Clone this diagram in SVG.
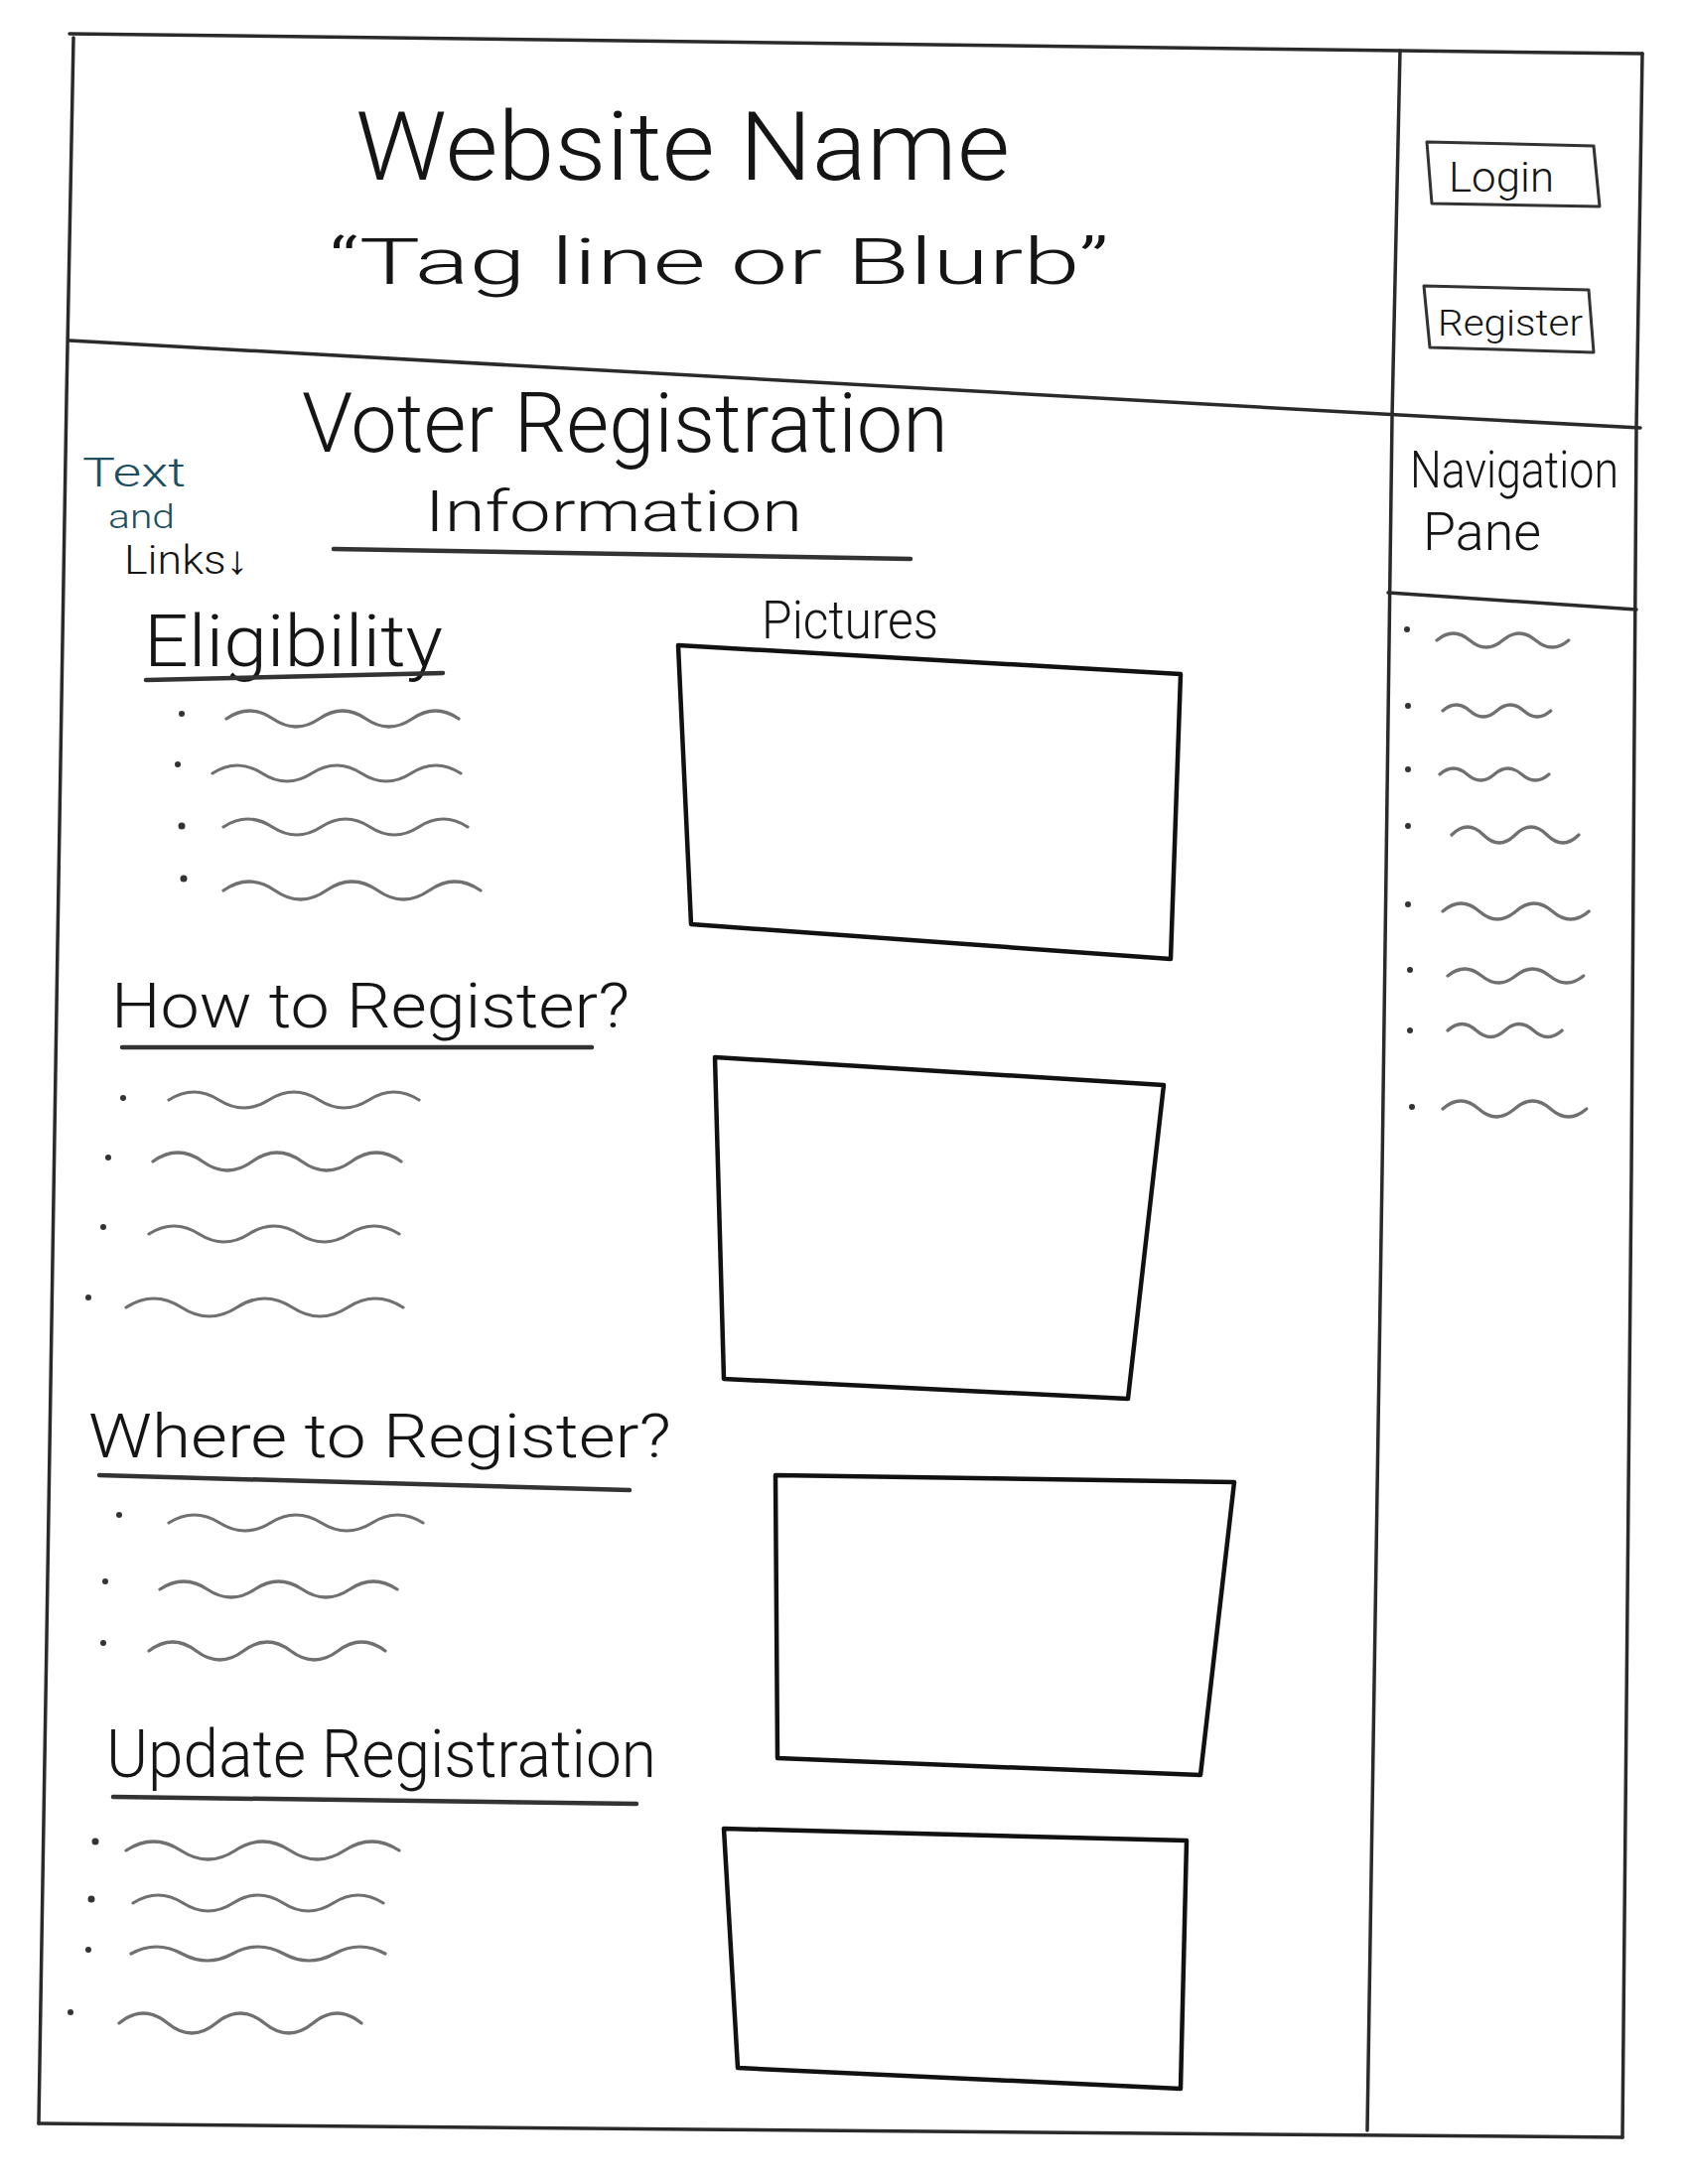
<svg xmlns="http://www.w3.org/2000/svg" width="1700" height="2200" viewBox="0 0 1700 2200">
<style>
.frame{fill:none;stroke:#2a2a2a;stroke-width:3.5;stroke-linecap:round;stroke-linejoin:round}
.box{fill:none;stroke:#111;stroke-width:4.5;stroke-linejoin:round;stroke-linecap:round}
.btn{fill:none;stroke:#333;stroke-width:3;stroke-linejoin:round}
.ul{fill:none;stroke:#333;stroke-width:4.5;stroke-linecap:round}
.sq{fill:none;stroke:#707070;stroke-width:3.2;stroke-linecap:round}
.dot{fill:#333}
.t{font-family:Roboto,"Liberation Sans",sans-serif;font-weight:300;fill:#151515}
.teal{fill:#1d4f61}
</style>
<rect width="1700" height="2200" fill="#ffffff"/>
<g id="frame">
<polyline class="frame" points="70,34 1410,51 1654,54"/>
<polyline class="frame" points="74,38 67,400 58,950 47,1650 39,2139"/>
<polyline class="frame" points="39,2139 700,2145 1634,2153"/>
<polyline class="frame" points="1654,54 1648,431 1643,1180 1634,2153"/>
<polyline class="frame" points="1410,51 1402,420 1392,1180 1377,2146"/>
<polyline class="frame" points="70,343 1410,418 1652,431"/>
<polyline class="frame" points="1398,597 1648,614"/>
</g>
<g id="header">
<text class="t" x="358" y="181" font-size="96" textLength="659" lengthAdjust="spacingAndGlyphs">Website Name</text>
<text class="t" x="331" y="286" font-size="64" textLength="786" lengthAdjust="spacingAndGlyphs">“Tag line or Blurb”</text>
</g>
<g id="login">
<polygon class="btn" points="1437,143 1605,147 1611,208 1442,205"/>
<text class="t" x="1459" y="193" font-size="42" textLength="106" lengthAdjust="spacingAndGlyphs">Login</text>
</g>
<g id="register">
<polygon class="btn" points="1434,288 1600,292 1605,355 1440,350"/>
<text class="t" x="1448" y="338" font-size="36" textLength="146" lengthAdjust="spacingAndGlyphs">Register</text>
</g>
<g id="navigation-pane">
<text class="t" x="1420" y="491" font-size="52" textLength="210" lengthAdjust="spacingAndGlyphs">Navigation</text>
<text class="t" x="1433" y="554" font-size="54" textLength="119" lengthAdjust="spacingAndGlyphs">Pane</text>
<circle class="dot" cx="1417" cy="634" r="3"/>
<path class="sq" d="M1447,645 q16.6,-14 33.2,0 t33.2,0 t33.2,0 t33.2,0"/>
<circle class="dot" cx="1418" cy="711" r="3"/>
<path class="sq" d="M1453,716 q13.6,-12 27.2,0 t27.2,0 t27.2,0 t27.2,0"/>
<circle class="dot" cx="1418" cy="775" r="3"/>
<path class="sq" d="M1450,780 q13.7,-12 27.5,0 t27.5,0 t27.5,0 t27.5,0"/>
<circle class="dot" cx="1418" cy="832" r="3"/>
<path class="sq" d="M1462,841 q16,-16 32,0 t32,0 t32,0 t32,0"/>
<circle class="dot" cx="1418" cy="911" r="3"/>
<path class="sq" d="M1453,918 q18.4,-16 36.8,0 t36.8,0 t36.8,0 t36.8,0"/>
<circle class="dot" cx="1420" cy="977" r="3"/>
<path class="sq" d="M1458,983 q17.1,-14 34.2,0 t34.2,0 t34.2,0 t34.2,0"/>
<circle class="dot" cx="1420" cy="1038" r="3"/>
<path class="sq" d="M1458,1038 q14.4,-13 28.8,0 t28.8,0 t28.8,0 t28.8,0"/>
<circle class="dot" cx="1422" cy="1115" r="3"/>
<path class="sq" d="M1453,1117 q18.1,-16 36.2,0 t36.2,0 t36.2,0 t36.2,0"/>
</g>
<g id="title">
<text class="t" x="304" y="455" font-size="84" textLength="651" lengthAdjust="spacingAndGlyphs">Voter Registration</text>
<text class="t" x="428" y="535" font-size="58" textLength="380" lengthAdjust="spacingAndGlyphs">Information</text>
<line class="ul" x1="336" y1="553" x2="917" y2="563"/>
</g>
<g id="text-and-links-note">
<text class="t teal" x="83" y="490" font-size="40" textLength="104" lengthAdjust="spacingAndGlyphs">Text</text>
<text class="t teal" x="109" y="532" font-size="34" textLength="67" lengthAdjust="spacingAndGlyphs">and</text>
<text class="t" x="125" y="578" font-size="40" textLength="125" lengthAdjust="spacingAndGlyphs">Links↓</text>
</g>
<g id="eligibility">
<text class="t" x="145" y="671" font-size="72" textLength="301" lengthAdjust="spacingAndGlyphs">Eligibility</text>
<line class="ul" x1="147" y1="685" x2="446" y2="678"/>
<circle class="dot" cx="183" cy="719" r="3"/>
<path class="sq" d="M228,724 q23.4,-16 46.8,0 t46.8,0 t46.8,0 t46.8,0 t46.8,0"/>
<circle class="dot" cx="179" cy="770" r="3"/>
<path class="sq" d="M214,779 q25,-16 50,0 t50,0 t50,0 t50,0 t50,0"/>
<circle class="dot" cx="183" cy="832" r="3.5"/>
<path class="sq" d="M225,833 q24.6,-16 49.2,0 t49.2,0 t49.2,0 t49.2,0 t49.2,0"/>
<circle class="dot" cx="185" cy="885" r="3.5"/>
<path class="sq" d="M225,897 q25.9,-18 51.8,0 t51.8,0 t51.8,0 t51.8,0 t51.8,0"/>
</g>
<g id="how-to-register">
<text class="t" x="112" y="1035" font-size="63" textLength="522" lengthAdjust="spacingAndGlyphs">How to Register?</text>
<line class="ul" x1="123" y1="1055" x2="596" y2="1055"/>
<circle class="dot" cx="124" cy="1106" r="3"/>
<path class="sq" d="M170,1108 q25.2,-16 50.4,0 t50.4,0 t50.4,0 t50.4,0 t50.4,0"/>
<circle class="dot" cx="109" cy="1166" r="3"/>
<path class="sq" d="M154,1170 q25,-18 50,0 t50,0 t50,0 t50,0 t50,0"/>
<circle class="dot" cx="104" cy="1236" r="3"/>
<path class="sq" d="M150,1243 q25.2,-16 50.4,0 t50.4,0 t50.4,0 t50.4,0 t50.4,0"/>
<circle class="dot" cx="89" cy="1307" r="3"/>
<path class="sq" d="M127,1317 q27.9,-18 55.8,0 t55.8,0 t55.8,0 t55.8,0 t55.8,0"/>
</g>
<g id="where-to-register">
<text class="t" x="89" y="1468" font-size="62" textLength="587" lengthAdjust="spacingAndGlyphs">Where to Register?</text>
<line class="ul" x1="100" y1="1486" x2="634" y2="1501"/>
<circle class="dot" cx="120" cy="1526" r="3"/>
<path class="sq" d="M170,1534 q25.6,-16 51.2,0 t51.2,0 t51.2,0 t51.2,0 t51.2,0"/>
<circle class="dot" cx="106" cy="1593" r="3"/>
<path class="sq" d="M161,1601 q23.9,-16 47.8,0 t47.8,0 t47.8,0 t47.8,0 t47.8,0"/>
<circle class="dot" cx="104" cy="1655" r="3"/>
<path class="sq" d="M150,1663 q23.8,-18 47.6,0 t47.6,0 t47.6,0 t47.6,0 t47.6,0"/>
</g>
<g id="update-registration">
<text class="t" x="107" y="1790" font-size="66" textLength="554" lengthAdjust="spacingAndGlyphs">Update Registration</text>
<line class="ul" x1="114" y1="1810" x2="641" y2="1817"/>
<circle class="dot" cx="96" cy="1855" r="3.5"/>
<path class="sq" d="M127,1864 q27.5,-18 55,0 t55,0 t55,0 t55,0 t55,0"/>
<circle class="dot" cx="92" cy="1913" r="3.5"/>
<path class="sq" d="M134,1917 q25.2,-16 50.4,0 t50.4,0 t50.4,0 t50.4,0 t50.4,0"/>
<circle class="dot" cx="89" cy="1964" r="3"/>
<path class="sq" d="M132,1968 q25.6,-14 51.2,0 t51.2,0 t51.2,0 t51.2,0 t51.2,0"/>
<circle class="dot" cx="71" cy="2027" r="3"/>
<path class="sq" d="M120,2038 q24.4,-20 48.8,0 t48.8,0 t48.8,0 t48.8,0 t48.8,0"/>
</g>
<g id="pictures">
<text class="t" x="767" y="643" font-size="54" textLength="178" lengthAdjust="spacingAndGlyphs">Pictures</text>
<polygon class="box" points="683,650 1189,679 1179,966 696,931"/>
<polygon class="box" points="720,1065 1172,1093 1136,1409 729,1389"/>
<polygon class="box" points="781,1486 1243,1493 1209,1788 783,1771"/>
<polygon class="box" points="729,1842 1195,1854 1189,2104 743,2083"/>
</g>
</svg>
